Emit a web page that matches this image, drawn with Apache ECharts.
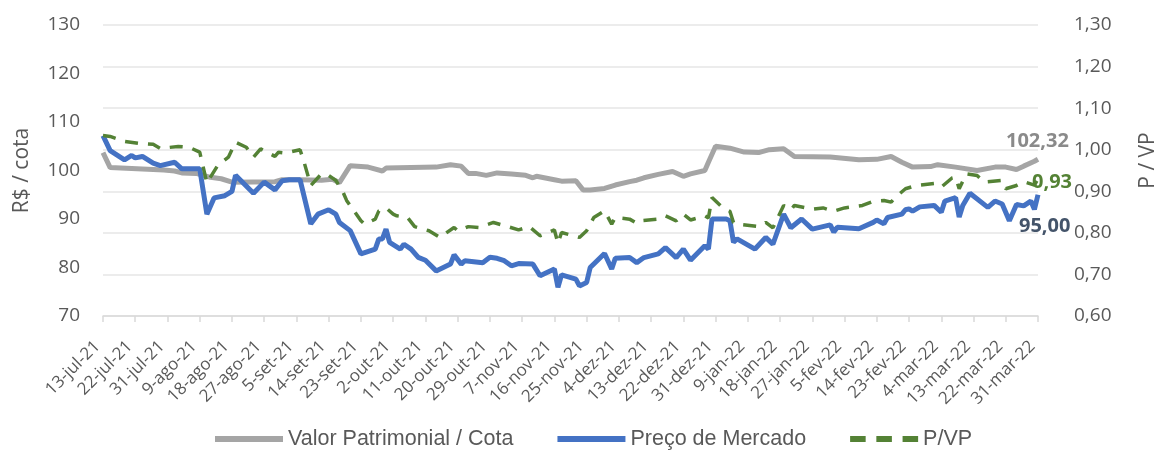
<!DOCTYPE html>
<html>
<head>
<meta charset="utf-8">
<script src="https://cdn.jsdelivr.net/npm/echarts@6/dist/echarts.min.js"></script>
<style>
html,body{margin:0;padding:0;background:#fff;}
#chart{width:1162px;height:450px;}
</style>
</head>
<body>
<div id="chart"></div>
<script>
// ---- axis: calendar days from 13-jul-21 to 31-mar-22 ----
var startDate = [2021, 6, 13];
var dayCount = 262;
var monthNames = ['jan','fev','mar','abr','mai','jun','jul','ago','set','out','nov','dez'];
var leftTicks = [70, 130, 10];
var rightTicks = [0.6, 1.3, 0.1];

// ---- Valor Patrimonial / Cota ----
var vpDates = ['13-jul-21','15-jul-21','30-jul-21','2-ago-21','4-ago-21','8-ago-21','12-ago-21','15-ago-21','18-ago-21','30-ago-21',
  '1-set-21','6-set-21','12-set-21','15-set-21','17-set-21','20-set-21','25-set-21','29-set-21','30-set-21','14-out-21',
  '18-out-21','21-out-21','23-out-21','25-out-21','28-out-21','31-out-21','4-nov-21','8-nov-21','10-nov-21','11-nov-21',
  '16-nov-21','18-nov-21','22-nov-21','24-nov-21','26-nov-21','30-nov-21','3-dez-21','7-dez-21','9-dez-21','11-dez-21',
  '15-dez-21','19-dez-21','22-dez-21','24-dez-21','28-dez-21','29-dez-21','31-dez-21','4-jan-22','8-jan-22','12-jan-22',
  '15-jan-22','19-jan-22','22-jan-22','1-fev-22','9-fev-22','14-fev-22','18-fev-22','21-fev-22','24-fev-22','1-mar-22',
  '3-mar-22','8-mar-22','14-mar-22','19-mar-22','22-mar-22','25-mar-22','27-mar-22','30-mar-22','31-mar-22'];
var vpValues = [103.7,100.6,100.1,99.9,99.5,99.4,98.6,98.3,97.6,97.7,
  98.1,98.1,98.0,98.2,97.5,101.0,100.7,99.9,100.5,100.7,
  101.2,100.9,99.4,99.4,99.0,99.5,99.3,99.0,98.5,98.8,
  98.1,97.8,97.9,96.0,96.0,96.3,97.0,97.7,98.0,98.5,
  99.2,99.8,98.8,99.3,100.0,101.7,105.0,104.6,103.8,103.7,
  104.3,104.5,102.9,102.8,102.2,102.3,102.9,101.7,100.7,100.8,
  101.2,100.7,100.0,100.7,100.7,100.2,100.9,101.9,102.32];

// ---- Preço de Mercado ----
var precoDates = ['13-jul-21','15-jul-21','19-jul-21','21-jul-21','22-jul-21','24-jul-21','27-jul-21','29-jul-21','2-ago-21','4-ago-21',
  '9-ago-21','11-ago-21','13-ago-21','16-ago-21','18-ago-21','19-ago-21','24-ago-21','27-ago-21','30-ago-21','1-set-21',
  '3-set-21','6-set-21','9-set-21','11-set-21','14-set-21','16-set-21','17-set-21','20-set-21','23-set-21','27-set-21',
  '28-set-21','29-set-21','30-set-21','1-out-21','4-out-21','5-out-21','7-out-21','9-out-21','11-out-21','14-out-21',
  '16-out-21','18-out-21','19-out-21','21-out-21','22-out-21','27-out-21','29-out-21','31-out-21','2-nov-21','4-nov-21',
  '6-nov-21','10-nov-21','12-nov-21','16-nov-21','17-nov-21','18-nov-21','22-nov-21','23-nov-21','25-nov-21','26-nov-21',
  '30-nov-21','2-dez-21','3-dez-21','7-dez-21','9-dez-21','11-dez-21','15-dez-21','17-dez-21','20-dez-21','22-dez-21',
  '24-dez-21','28-dez-21','29-dez-21','30-dez-21','3-jan-22','4-jan-22','5-jan-22','6-jan-22','11-jan-22','14-jan-22',
  '16-jan-22','19-jan-22','21-jan-22','24-jan-22','27-jan-22','1-fev-22','2-fev-22','3-fev-22','9-fev-22','13-fev-22',
  '14-fev-22','16-fev-22','17-fev-22','21-fev-22','22-fev-22','23-fev-22','24-fev-22','26-fev-22','2-mar-22','4-mar-22',
  '5-mar-22','8-mar-22','9-mar-22','10-mar-22','12-mar-22','17-mar-22','19-mar-22','21-mar-22','23-mar-22','25-mar-22',
  '27-mar-22','29-mar-22','30-mar-22','31-mar-22'];
var precoValues = [107.2,104.1,102.2,103.1,102.6,102.9,101.5,101.0,101.7,100.35,
  100.35,91.0,94.35,94.8,95.7,99.0,95.3,97.6,96.0,97.9,
  98.1,98.1,89.0,91.0,91.9,91.0,89.3,87.6,82.8,83.8,
  85.9,85.9,87.9,85.2,83.8,84.8,83.8,82.1,81.5,79.3,
  80.0,80.7,82.6,80.7,81.4,81.0,82.1,81.9,81.4,80.35,
  80.8,80.7,78.3,79.7,75.9,78.5,77.6,76.2,76.9,80.0,
  82.9,79.7,81.9,82.05,81.0,82.05,82.8,84.1,82.05,83.8,
  81.5,84.5,83.8,90.0,90.0,89.65,85.2,85.9,83.8,86.2,
  84.8,91.0,88.2,90.0,87.9,88.8,87.3,88.3,88.0,89.3,
  89.8,89.0,90.3,91.0,91.9,92.1,91.6,92.5,92.8,91.4,
  93.7,94.4,90.4,92.8,95.3,92.4,93.7,93.1,89.65,93.0,
  92.7,93.7,92.0,95.0];

// ---- P/VP ----
var pvpDates = ['13-jul-21','15-jul-21','19-jul-21','23-jul-21','27-jul-21','29-jul-21','3-ago-21','6-ago-21','9-ago-21','11-ago-21',
  '14-ago-21','17-ago-21','19-ago-21','22-ago-21','24-ago-21','26-ago-21','30-ago-21','31-ago-21','2-set-21','6-set-21',
  '7-set-21','9-set-21','12-set-21','14-set-21','16-set-21','18-set-21','19-set-21','23-set-21','24-set-21','27-set-21',
  '28-set-21','30-set-21','2-out-21','3-out-21','6-out-21','8-out-21','12-out-21','15-out-21','19-out-21','20-out-21',
  '23-out-21','26-out-21','30-out-21','3-nov-21','6-nov-21','9-nov-21','12-nov-21','16-nov-21','17-nov-21','18-nov-21',
  '23-nov-21','25-nov-21','27-nov-21','30-nov-21','2-dez-21','3-dez-21','7-dez-21','9-dez-21','10-dez-21','15-dez-21',
  '17-dez-21','20-dez-21','22-dez-21','24-dez-21','28-dez-21','29-dez-21','30-dez-21','2-jan-22','4-jan-22','5-jan-22',
  '7-jan-22','12-jan-22','14-jan-22','16-jan-22','19-jan-22','21-jan-22','22-jan-22','27-jan-22','30-jan-22','2-fev-22',
  '5-fev-22','10-fev-22','13-fev-22','16-fev-22','18-fev-22','19-fev-22','22-fev-22','25-fev-22','2-mar-22','4-mar-22',
  '7-mar-22','8-mar-22','9-mar-22','11-mar-22','14-mar-22','16-mar-22','21-mar-22','22-mar-22','25-mar-22','27-mar-22',
  '30-mar-22','31-mar-22'];
var pvpValues = [1.034,1.032,1.020,1.015,1.013,1.003,1.008,1.006,0.994,0.920,
  0.962,0.982,1.018,1.006,0.982,1.002,0.984,0.994,0.992,1.000,
  0.974,0.914,0.942,0.938,0.926,0.898,0.878,0.829,0.821,0.833,
  0.853,0.860,0.845,0.841,0.837,0.815,0.805,0.789,0.813,0.805,
  0.815,0.813,0.825,0.815,0.807,0.815,0.793,0.807,0.775,0.801,
  0.789,0.805,0.837,0.853,0.821,0.837,0.833,0.823,0.829,0.833,
  0.841,0.829,0.845,0.831,0.841,0.836,0.885,0.860,0.852,0.825,
  0.820,0.815,0.825,0.812,0.866,0.855,0.866,0.857,0.860,0.852,
  0.860,0.866,0.876,0.878,0.874,0.884,0.906,0.914,0.919,0.910,
  0.932,0.934,0.906,0.942,0.938,0.922,0.926,0.906,0.914,0.923,
  0.915,0.930];

// ---- build ----
var categories = [];
for (var i = 0; i < dayCount; i++) {
  var dt = new Date(Date.UTC(startDate[0], startDate[1], startDate[2] + i));
  categories.push(dt.getUTCDate() + '-' + monthNames[dt.getUTCMonth()] + '-' + String(dt.getUTCFullYear()).slice(2));
}
function pairs(d, v) { return d.map(function (x, k) { return [x, v[k]]; }); }
function comma(v, n) { return Number(v).toFixed(n).replace('.', ','); }

var textColor = '#595959';
var fontFam = '"Open Sans", "Liberation Sans", sans-serif';
var solidIcon = 'path://M0,0H68V6H0Z';
var dashIcon = 'path://M0,0H16V6H0Z M27,0H43V6H27Z M54,0H70V6H54Z';

var chart = echarts.init(document.getElementById('chart'), null, {renderer: 'canvas'});
chart.setOption({
  animation: false,
  backgroundColor: '#ffffff',
  grid: {left: 103, right: 124, top: 25, bottom: 134, containLabel: false, outerBoundsMode: 'none'},
  legend: {
    top: 423, left: 210,
    itemWidth: 68, itemHeight: 6, itemGap: 44,
    itemStyle: {borderWidth: 0},
    textStyle: {color: textColor, fontSize: 21.5, fontFamily: '"Liberation Sans", Arial, sans-serif'},
    data: [
      {name: 'Valor Patrimonial / Cota', icon: solidIcon},
      {name: 'Preço de Mercado', icon: solidIcon},
      {name: 'P/VP', icon: dashIcon}
    ]
  },
  xAxis: {
    type: 'category', data: categories, boundaryGap: false,
    axisLine: {lineStyle: {color: '#D9D9D9', width: 1.5}},
    axisTick: {show: true, interval: 8, length: 6, lineStyle: {color: '#D9D9D9', width: 1.5}},
    axisLabel: {interval: 8, rotate: 45, color: textColor, fontSize: 17, fontFamily: fontFam,
      margin: 22, padding: [0, 8, 0, 0]},
    splitLine: {show: false}
  },
  yAxis: [{
    type: 'value', min: leftTicks[0], max: leftTicks[1], interval: leftTicks[2], position: 'left',
    name: 'R$ / cota', nameLocation: 'middle', nameRotate: 90, nameGap: 70,
    nameTextStyle: {color: textColor, fontSize: 21, fontFamily: fontFam},
    axisLine: {show: false}, axisTick: {show: false},
    axisLabel: {color: textColor, fontSize: 19, fontFamily: fontFam, margin: 23},
    splitLine: {show: false}
  }, {
    type: 'value', min: rightTicks[0], max: rightTicks[1], interval: rightTicks[2], position: 'right',
    name: 'P / VP', nameLocation: 'middle', nameRotate: 90, nameGap: 100,
    nameTextStyle: {color: textColor, fontSize: 21, fontFamily: fontFam, padding: [0, 0, 0, 20]},
    axisLine: {show: false}, axisTick: {show: false},
    axisLabel: {color: textColor, fontSize: 19, fontFamily: fontFam, margin: 36,
      formatter: function (v) { return comma(v, 2); }},
    splitLine: {show: true, lineStyle: {color: '#E6E6E6', width: 1.5}}
  }],
  series: [{
    name: 'Valor Patrimonial / Cota', type: 'line', yAxisIndex: 0,
    data: pairs(vpDates, vpValues), symbol: 'none', showSymbol: false,
    lineStyle: {color: '#A5A5A5', width: 5}, itemStyle: {color: '#A5A5A5'},
    endLabel: {show: true, formatter: function (p) { return comma(p.value[1], 2); },
      color: '#8A8A8A', fontSize: 20, fontWeight: 'bold', fontFamily: fontFam, offset: [-40, -18]}
  }, {
    name: 'Preço de Mercado', type: 'line', yAxisIndex: 0,
    data: pairs(precoDates, precoValues), symbol: 'none', showSymbol: false,
    lineStyle: {color: '#4472C4', width: 5}, itemStyle: {color: '#4472C4'},
    endLabel: {show: true, formatter: function (p) { return comma(p.value[1], 2); },
      color: '#44546A', fontSize: 20, fontWeight: 'bold', fontFamily: fontFam, offset: [-27, 32]}
  }, {
    name: 'P/VP', type: 'line', yAxisIndex: 1,
    data: pairs(pvpDates, pvpValues), symbol: 'none', showSymbol: false,
    lineStyle: {color: '#548235', width: 3.5, type: [13, 10]}, itemStyle: {color: '#548235'},
    endLabel: {show: true, formatter: function (p) { return comma(p.value[1], 2); },
      color: '#548235', fontSize: 20, fontWeight: 'bold', fontFamily: fontFam, offset: [-14, 3]}
  }]
});
</script>
</body>
</html>
